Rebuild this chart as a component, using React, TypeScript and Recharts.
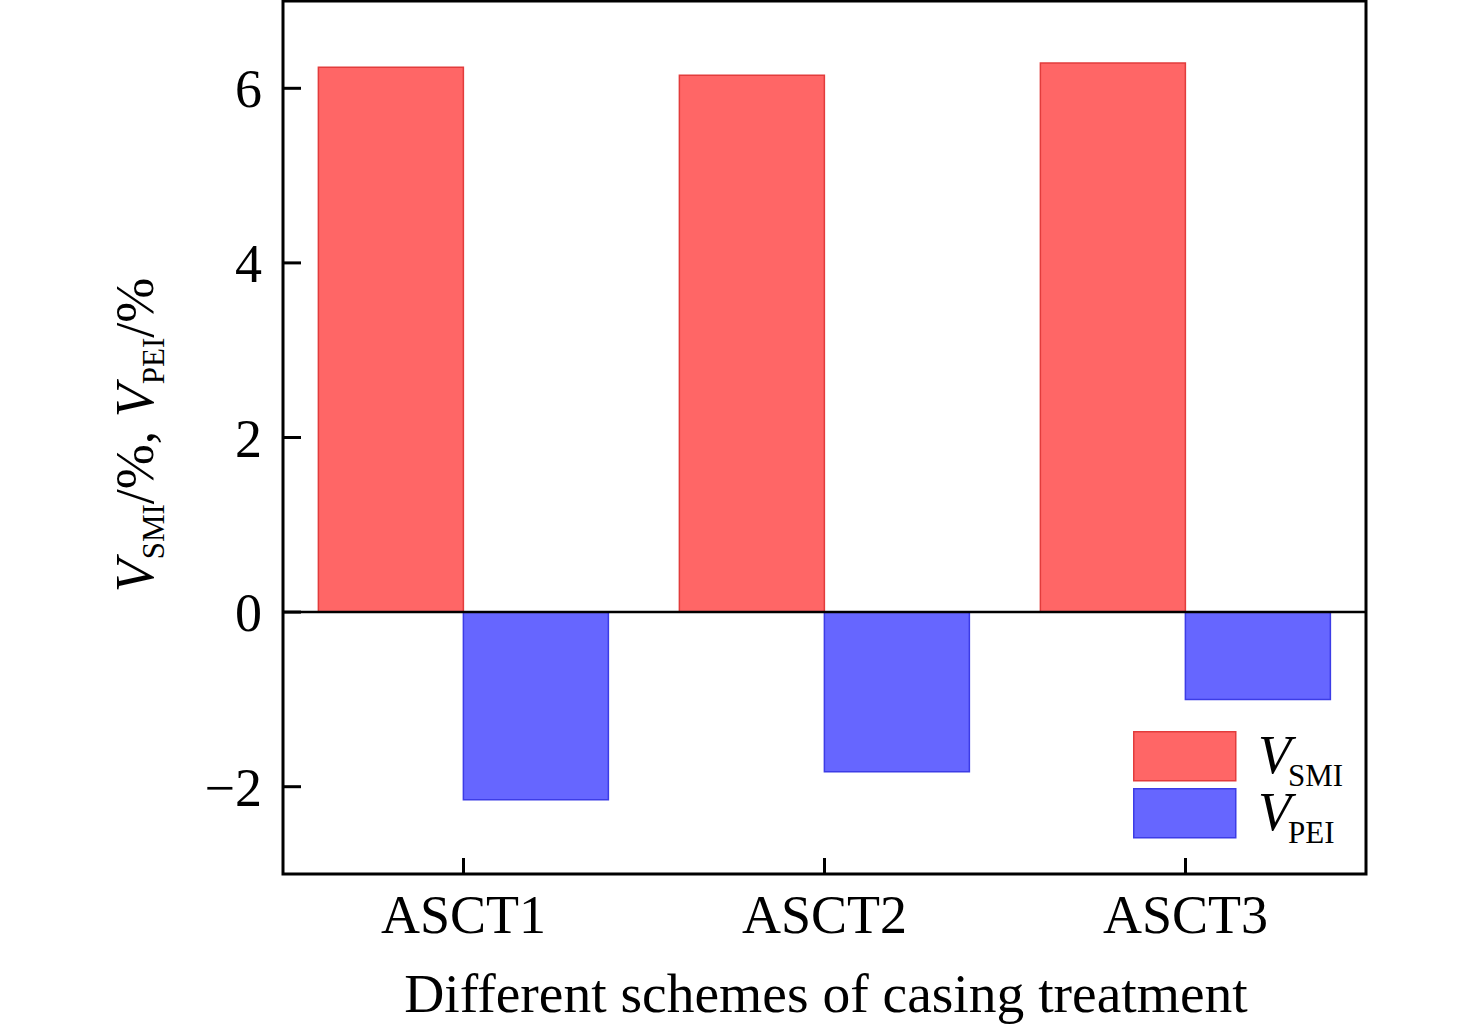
import React from 'react';
import { BarChart, Bar, XAxis, YAxis, ReferenceLine, ReferenceArea } from 'recharts';

const categories = ['ASCT1', 'ASCT2', 'ASCT3'];
const vSMI = [6.24, 6.15, 6.29];
const vPEI = [-2.15, -1.83, -1.0];
const yTicks = [-2, 0, 2, 4, 6];
const xTitle = 'Different schemes of casing treatment';

const data = categories.map((c, i) => ({ name: c, smi: vSMI[i], pei: vPEI[i] }));

const FONT = '"Liberation Serif", "Times New Roman", Times, serif';
const RED = '#ff6666';
const RED_S = '#e23c3c';
const BLUE = '#6666ff';
const BLUE_S = '#3c3ce6';

const YLabel = () => (
  <text
    x={153}
    y={435}
    transform="rotate(-90, 153, 435)"
    textAnchor="middle"
    fontFamily={FONT}
    fontSize={54}
    fill="#000"
  >
    <tspan fontStyle="italic">V</tspan>
    <tspan fontSize={31} dy={11}>SMI</tspan>
    <tspan dy={-11}>/%, </tspan>
    <tspan fontStyle="italic">V</tspan>
    <tspan fontSize={31} dy={11}>PEI</tspan>
    <tspan dy={-11}>/%</tspan>
  </text>
);

const XLabel = () => (
  <text x={826} y={1012} textAnchor="middle" fontFamily={FONT} fontSize={55.5} fill="#000">
    {xTitle}
  </text>
);

const LegendBox = () => (
  <svg width={260} height={115} style={{ position: 'absolute', left: 1133, top: 731, overflow: 'visible' }}>
    <rect x={0.75} y={0.75} width={102} height={49} fill={RED} stroke={RED_S} strokeWidth={1.5} />
    <rect x={0.75} y={57.75} width={102} height={49} fill={BLUE} stroke={BLUE_S} strokeWidth={1.5} />
    <text x={125} y={42} fontFamily={FONT} fontSize={54} fill="#000">
      <tspan fontStyle="italic">V</tspan>
      <tspan fontSize={31} dy={13} dx={-3}>SMI</tspan>
    </text>
    <text x={125} y={99} fontFamily={FONT} fontSize={54} fill="#000">
      <tspan fontStyle="italic">V</tspan>
      <tspan fontSize={31} dy={13} dx={-3}>PEI</tspan>
    </text>
  </svg>
);

const fmt = (v: number) => String(v).replace('-', '\u2212');

export default function App() {
  return (
    <div style={{ position: 'absolute', left: 0, top: 0, width: 1476, height: 1030, background: '#fff' }}>
      <BarChart
        width={1476}
        height={1030}
        data={data}
        margin={{ top: 1, right: 110, bottom: 0, left: 0 }}
        barCategoryGap="9.8%"
        barGap={0}
      >
        <XAxis
          dataKey="name"
          height={156}
          tickSize={-16}
          tickMargin={37}
          axisLine={false}
          tickLine={{ stroke: '#000', strokeWidth: 3 }}
          tick={{ fontSize: 54, fill: '#000', fontFamily: FONT }}
          label={XLabel}
        />
        <YAxis
          width={283}
          domain={[-3, 7]}
          ticks={yTicks}
          type="number"
          tickSize={-18}
          tickMargin={39}
          tickFormatter={fmt}
          axisLine={false}
          tickLine={{ stroke: '#000', strokeWidth: 3 }}
          tick={{ fontSize: 54, fill: '#000', fontFamily: FONT }}
          label={YLabel}
        />
        <Bar dataKey="smi" fill={RED} stroke={RED_S} strokeWidth={1.5} isAnimationActive={false} />
        <Bar dataKey="pei" fill={BLUE} stroke={BLUE_S} strokeWidth={1.5} isAnimationActive={false} />
        <ReferenceLine y={0} stroke="#000" strokeWidth={2.5} />
        <ReferenceArea
          y1={-3}
          y2={7}
          fill="none"
          fillOpacity={0}
          stroke="#000"
          strokeWidth={3}
          ifOverflow="visible"
        />
      </BarChart>
      <LegendBox />
    </div>
  );
}
